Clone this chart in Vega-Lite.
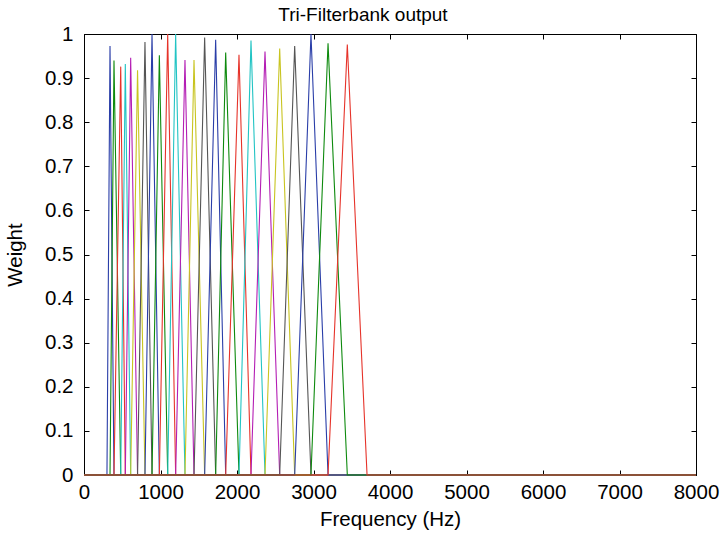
{
  "$schema": "https://vega.github.io/schema/vega-lite/v6.json",
  "width": 612,
  "height": 441,
  "autosize": {"type": "none"},
  "padding": {"left": 84, "top": 34, "right": 25, "bottom": 64},
  "background": "white",
  "config": {
    "view": {"stroke": "black", "strokeWidth": 1},
    "font": "Liberation Sans",
    "axis": {"domainColor": "black", "tickColor": "black", "labelColor": "black", "titleColor": "black", "grid": false, "labelFont": "Liberation Sans", "titleFont": "Liberation Sans", "titleFontWeight": "normal", "labelFontSize": 20.5, "titleFontSize": 20.5, "labelFlush": false}
  },
  "title": {"text": "Tri-Filterbank output", "fontSize": 19, "fontWeight": "normal", "font": "Liberation Sans", "color": "black", "offset": -1, "dx": -27},
  "data": {"values": [
    {"filter": 1, "f": 0, "w": 0}, {"filter": 1, "f": 300, "w": 0}, {"filter": 1, "f": 340, "w": 0.973}, {"filter": 1, "f": 392, "w": 0}, {"filter": 1, "f": 8000, "w": 0},
    {"filter": 2, "f": 0, "w": 0}, {"filter": 2, "f": 340, "w": 0}, {"filter": 2, "f": 392, "w": 0.94}, {"filter": 2, "f": 480, "w": 0}, {"filter": 2, "f": 8000, "w": 0},
    {"filter": 3, "f": 0, "w": 0}, {"filter": 3, "f": 392, "w": 0}, {"filter": 3, "f": 480, "w": 0.926}, {"filter": 3, "f": 540, "w": 0}, {"filter": 3, "f": 8000, "w": 0},
    {"filter": 4, "f": 0, "w": 0}, {"filter": 4, "f": 480, "w": 0}, {"filter": 4, "f": 540, "w": 0.932}, {"filter": 4, "f": 610, "w": 0}, {"filter": 4, "f": 8000, "w": 0},
    {"filter": 5, "f": 0, "w": 0}, {"filter": 5, "f": 540, "w": 0}, {"filter": 5, "f": 610, "w": 0.946}, {"filter": 5, "f": 700, "w": 0}, {"filter": 5, "f": 8000, "w": 0},
    {"filter": 6, "f": 0, "w": 0}, {"filter": 6, "f": 610, "w": 0}, {"filter": 6, "f": 700, "w": 0.918}, {"filter": 6, "f": 797, "w": 0}, {"filter": 6, "f": 8000, "w": 0},
    {"filter": 7, "f": 0, "w": 0}, {"filter": 7, "f": 700, "w": 0}, {"filter": 7, "f": 797, "w": 0.982}, {"filter": 7, "f": 889, "w": 0}, {"filter": 7, "f": 8000, "w": 0},
    {"filter": 8, "f": 0, "w": 0}, {"filter": 8, "f": 797, "w": 0}, {"filter": 8, "f": 889, "w": 1.0}, {"filter": 8, "f": 985, "w": 0}, {"filter": 8, "f": 8000, "w": 0},
    {"filter": 9, "f": 0, "w": 0}, {"filter": 9, "f": 889, "w": 0}, {"filter": 9, "f": 985, "w": 0.952}, {"filter": 9, "f": 1094, "w": 0}, {"filter": 9, "f": 8000, "w": 0},
    {"filter": 10, "f": 0, "w": 0}, {"filter": 10, "f": 985, "w": 0}, {"filter": 10, "f": 1094, "w": 1.0}, {"filter": 10, "f": 1198, "w": 0}, {"filter": 10, "f": 8000, "w": 0},
    {"filter": 11, "f": 0, "w": 0}, {"filter": 11, "f": 1094, "w": 0}, {"filter": 11, "f": 1198, "w": 1.0}, {"filter": 11, "f": 1320, "w": 0}, {"filter": 11, "f": 8000, "w": 0},
    {"filter": 12, "f": 0, "w": 0}, {"filter": 12, "f": 1198, "w": 0}, {"filter": 12, "f": 1320, "w": 0.941}, {"filter": 12, "f": 1438, "w": 0}, {"filter": 12, "f": 8000, "w": 0},
    {"filter": 13, "f": 0, "w": 0}, {"filter": 13, "f": 1320, "w": 0}, {"filter": 13, "f": 1438, "w": 0.941}, {"filter": 13, "f": 1577, "w": 0}, {"filter": 13, "f": 8000, "w": 0},
    {"filter": 14, "f": 0, "w": 0}, {"filter": 14, "f": 1438, "w": 0}, {"filter": 14, "f": 1577, "w": 0.992}, {"filter": 14, "f": 1721, "w": 0}, {"filter": 14, "f": 8000, "w": 0},
    {"filter": 15, "f": 0, "w": 0}, {"filter": 15, "f": 1577, "w": 0}, {"filter": 15, "f": 1721, "w": 0.987}, {"filter": 15, "f": 1852, "w": 0}, {"filter": 15, "f": 8000, "w": 0},
    {"filter": 16, "f": 0, "w": 0}, {"filter": 16, "f": 1721, "w": 0}, {"filter": 16, "f": 1852, "w": 0.958}, {"filter": 16, "f": 2026, "w": 0}, {"filter": 16, "f": 8000, "w": 0},
    {"filter": 17, "f": 0, "w": 0}, {"filter": 17, "f": 1852, "w": 0}, {"filter": 17, "f": 2026, "w": 0.953}, {"filter": 17, "f": 2183, "w": 0}, {"filter": 17, "f": 8000, "w": 0},
    {"filter": 18, "f": 0, "w": 0}, {"filter": 18, "f": 2026, "w": 0}, {"filter": 18, "f": 2183, "w": 0.985}, {"filter": 18, "f": 2366, "w": 0}, {"filter": 18, "f": 8000, "w": 0},
    {"filter": 19, "f": 0, "w": 0}, {"filter": 19, "f": 2183, "w": 0}, {"filter": 19, "f": 2366, "w": 0.96}, {"filter": 19, "f": 2558, "w": 0}, {"filter": 19, "f": 8000, "w": 0},
    {"filter": 20, "f": 0, "w": 0}, {"filter": 20, "f": 2366, "w": 0}, {"filter": 20, "f": 2558, "w": 0.967}, {"filter": 20, "f": 2754, "w": 0}, {"filter": 20, "f": 8000, "w": 0},
    {"filter": 21, "f": 0, "w": 0}, {"filter": 21, "f": 2558, "w": 0}, {"filter": 21, "f": 2754, "w": 0.973}, {"filter": 21, "f": 2967, "w": 0}, {"filter": 21, "f": 8000, "w": 0},
    {"filter": 22, "f": 0, "w": 0}, {"filter": 22, "f": 2754, "w": 0}, {"filter": 22, "f": 2967, "w": 1.0}, {"filter": 22, "f": 3190, "w": 0}, {"filter": 22, "f": 8000, "w": 0},
    {"filter": 23, "f": 0, "w": 0}, {"filter": 23, "f": 2967, "w": 0}, {"filter": 23, "f": 3190, "w": 0.979}, {"filter": 23, "f": 3442, "w": 0}, {"filter": 23, "f": 8000, "w": 0},
    {"filter": 24, "f": 0, "w": 0}, {"filter": 24, "f": 3190, "w": 0}, {"filter": 24, "f": 3442, "w": 0.976}, {"filter": 24, "f": 3700, "w": 0}, {"filter": 24, "f": 8000, "w": 0}
  ]},
  "layer": [
    {
      "mark": {"type": "line", "strokeWidth": 1.1},
      "encoding": {
        "x": {"field": "f", "type": "quantitative", "scale": {"domain": [0, 8000], "nice": false, "zero": false},
              "axis": {"orient": "bottom", "title": "Frequency (Hz)", "values": [0, 1000, 2000, 3000, 4000, 5000, 6000, 7000, 8000], "format": "d", "tickSize": -5, "labelPadding": 12, "titlePadding": 7}},
        "y": {"field": "w", "type": "quantitative", "scale": {"domain": [0, 1], "nice": false, "zero": false},
              "axis": {"orient": "left", "title": "Weight", "values": [0, 0.1, 0.2, 0.3, 0.4, 0.5, 0.6, 0.7, 0.8, 0.9, 1], "format": "~g", "tickSize": -5, "labelPadding": 16, "titlePadding": 19}},
        "color": {"field": "filter", "type": "nominal", "legend": null,
                  "scale": {"range": ["#2a3ea8", "#0e8a0e", "#e6332a", "#22c4c4", "#b41eb4", "#c8c420", "#555555"]}},
        "order": {"field": "f", "type": "quantitative"}
      }
    },
    {
      "mark": {"type": "line", "opacity": 0},
      "encoding": {
        "x": {"field": "f", "type": "quantitative", "scale": {"domain": [0, 8000], "nice": false, "zero": false},
              "axis": {"orient": "top", "title": null, "labels": false, "domain": false, "values": [0, 1000, 2000, 3000, 4000, 5000, 6000, 7000, 8000], "tickSize": -5}},
        "y": {"field": "w", "type": "quantitative", "scale": {"domain": [0, 1], "nice": false, "zero": false},
              "axis": {"orient": "right", "title": null, "labels": false, "domain": false, "values": [0, 0.1, 0.2, 0.3, 0.4, 0.5, 0.6, 0.7, 0.8, 0.9, 1], "tickSize": -5}}
      }
    }
  ],
  "resolve": {"axis": {"x": "independent", "y": "independent"}}
}
